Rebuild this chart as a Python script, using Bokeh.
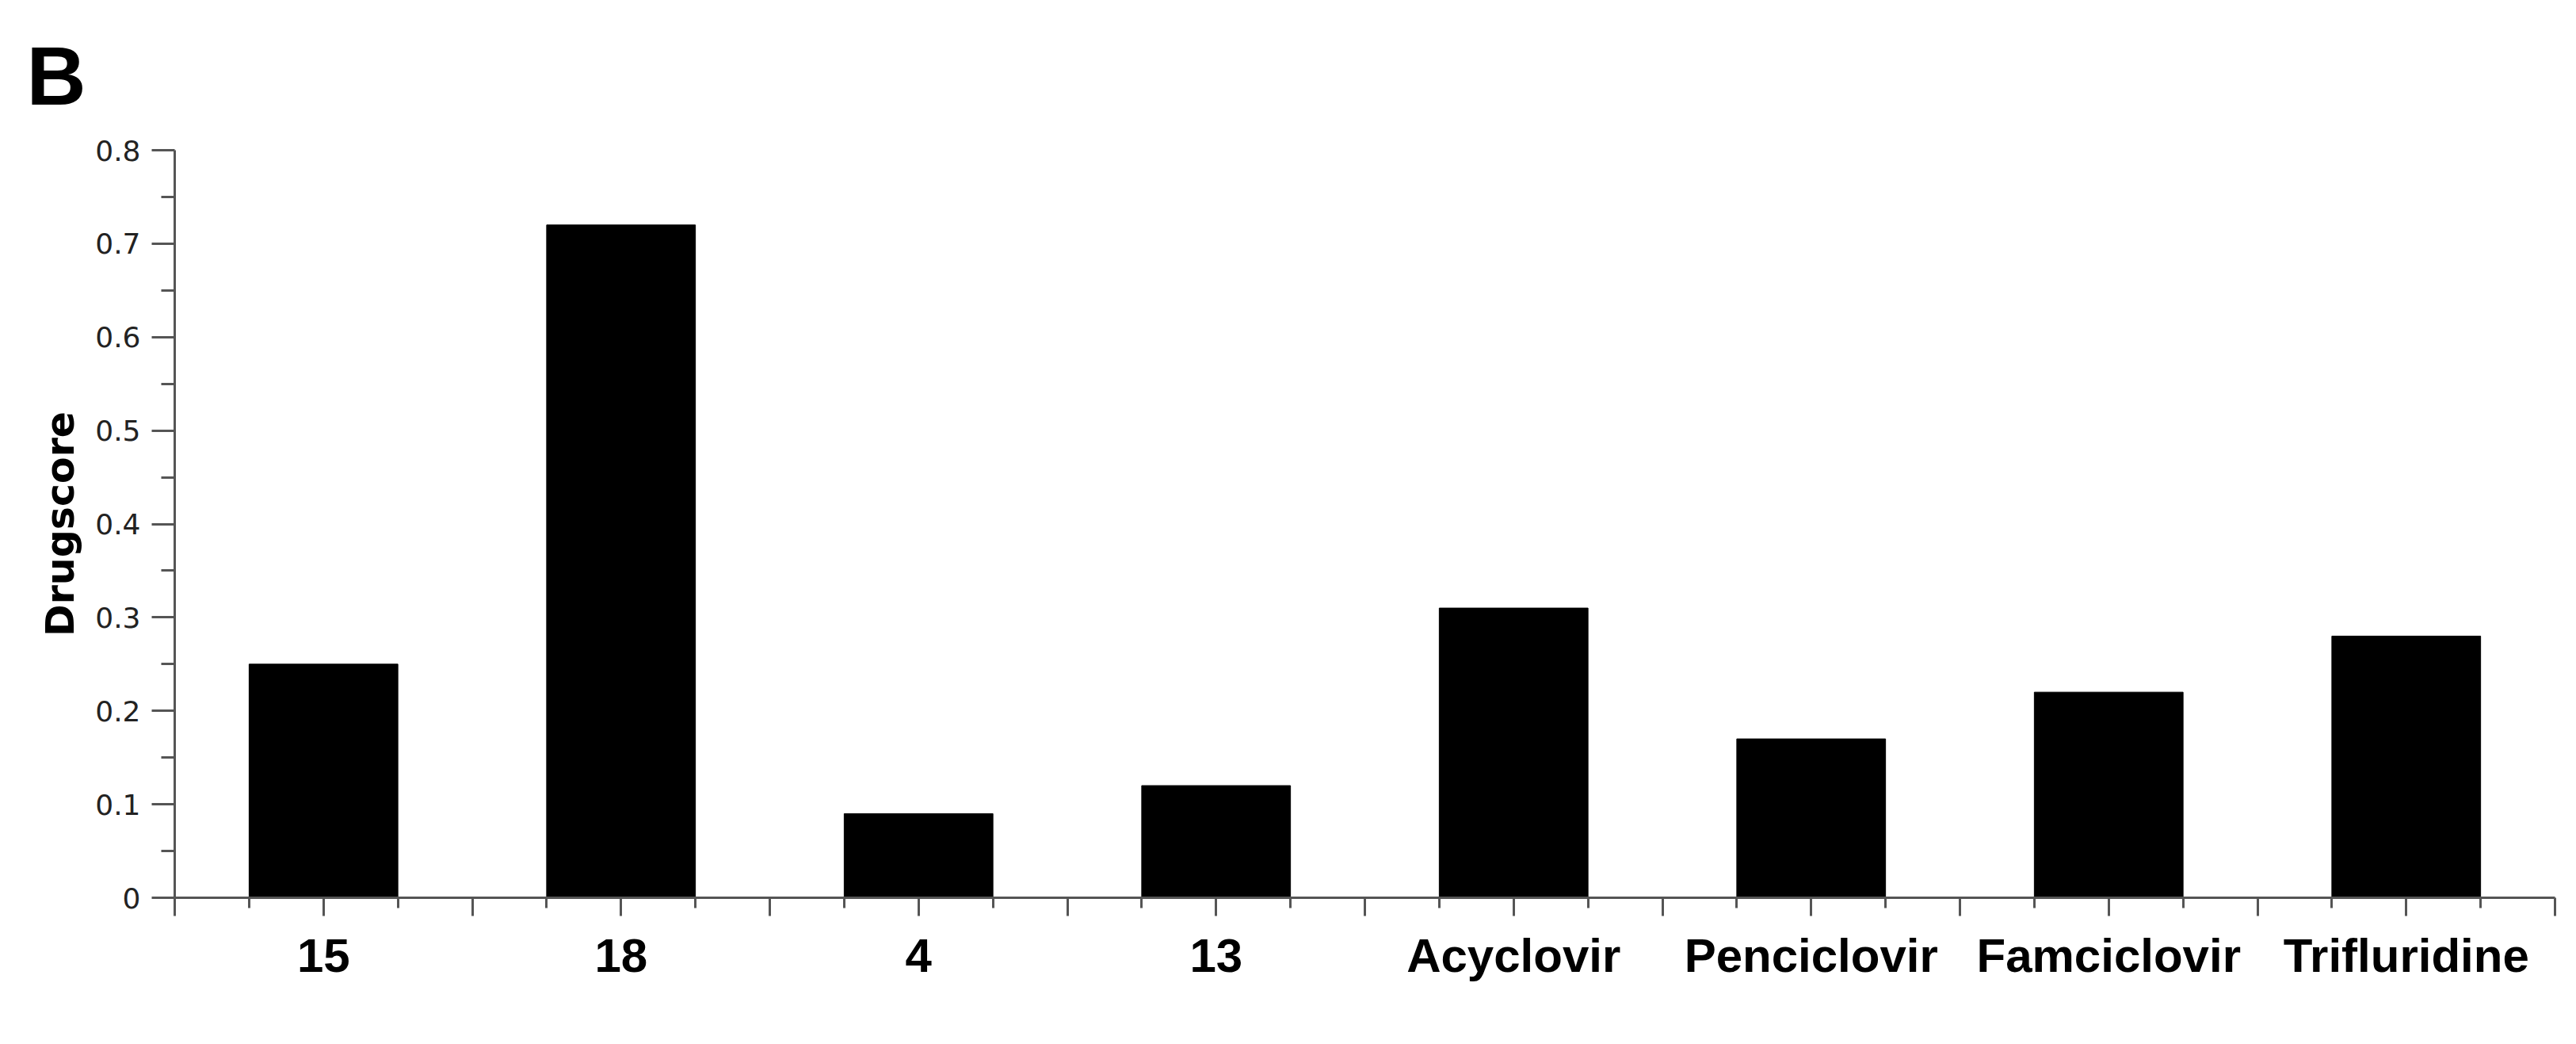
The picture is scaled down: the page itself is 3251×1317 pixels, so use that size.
from bokeh.plotting import figure
from bokeh.models import FixedTicker, Range1d, ColumnDataSource, NumeralTickFormatter, Title
from bokeh.embed import file_html
from bokeh.resources import INLINE

categories = ["15", "18", "4", "13", "Acyclovir", "Penciclovir", "Famciclovir", "Trifluridine"]
drugscore = [0.25, 0.72, 0.09, 0.12, 0.31, 0.17, 0.22, 0.28]
y_ticks = [0.0, 0.1, 0.2, 0.3, 0.4, 0.5, 0.6, 0.7, 0.8]
y_minor_ticks = [0.05, 0.15, 0.25, 0.35, 0.45, 0.55, 0.65, 0.75]
y_label = "Drugscore"
panel_letter = "B"

n = len(categories)
# x scale in half-category units: category i spans [2i, 2i+2], centred at 2i+1
centers = [2 * i + 1 for i in range(n)]
boundaries = [2 * i for i in range(n + 1)]
quarters = [2 * i + d for i in range(n) for d in (0.5, 1.5)]

src = ColumnDataSource(dict(x=centers, top=drugscore, name=categories))

p = figure(width=3235, height=1301,
           x_range=Range1d(0, 2 * n), y_range=Range1d(0, 0.8),
           output_backend="svg", toolbar_location=None,
           min_border_left=220, min_border_right=11,
           min_border_top=189, min_border_bottom=169)
p.title = Title(text=panel_letter, align="left", offset=-187, standoff=71,
                text_font="Liberation Sans", text_font_size="104px",
                text_font_style="bold", text_color="black")

p.vbar(x="x", top="top", width=1.0, source=src, fill_color="black", line_color="black")

p.grid.visible = False
p.outline_line_color = None
p.background_fill_color = "white"
p.border_fill_color = "white"

axis_col = "#555555"

overrides = {b: "" for b in boundaries}
overrides.update({c: name for c, name in zip(centers, categories)})

xa = p.xaxis[0]
xa.ticker = FixedTicker(ticks=sorted(boundaries + centers), minor_ticks=quarters)
xa.major_label_overrides = overrides
xa.axis_line_color = axis_col
xa.axis_line_width = 3
xa.major_tick_line_color = axis_col
xa.major_tick_line_width = 3
xa.major_tick_in = 0
xa.major_tick_out = 23
xa.minor_tick_line_color = axis_col
xa.minor_tick_line_width = 3
xa.minor_tick_in = 0
xa.minor_tick_out = 13
xa.major_label_text_font = "Liberation Sans"
xa.major_label_text_font_style = "bold"
xa.major_label_text_font_size = "60px"
xa.major_label_text_color = "black"
xa.major_label_standoff = 16

ya = p.yaxis[0]
ya.ticker = FixedTicker(ticks=y_ticks, minor_ticks=y_minor_ticks)
ya.formatter = NumeralTickFormatter(format="0.[0]")
ya.axis_line_color = axis_col
ya.axis_line_width = 3
ya.major_tick_line_color = axis_col
ya.major_tick_line_width = 3
ya.major_tick_in = 0
ya.major_tick_out = 29
ya.minor_tick_line_color = axis_col
ya.minor_tick_line_width = 3
ya.minor_tick_in = 0
ya.minor_tick_out = 17
ya.major_label_text_font = "DejaVu Sans"
ya.major_label_text_font_size = "36px"
ya.major_label_text_color = "#222222"
ya.major_label_standoff = 14
ya.axis_label = y_label
ya.axis_label_text_font = "DejaVu Sans"
ya.axis_label_text_font_style = "bold"
ya.axis_label_text_font_size = "49px"
ya.axis_label_text_color = "black"
ya.axis_label_standoff = 12

open("out.html", "w").write(file_html(p, INLINE))
